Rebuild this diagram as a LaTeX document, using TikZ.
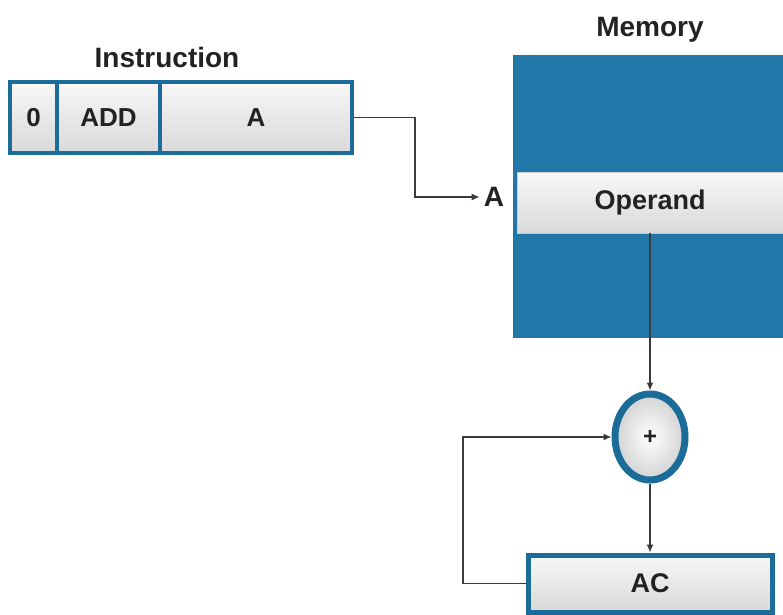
\documentclass[tikz,border=0pt]{standalone}
\usepackage{fontspec}
\setmainfont{Liberation Sans}
\usetikzlibrary{arrows.meta,shapes.geometric}
\definecolor{memblue}{HTML}{2178A8}
\definecolor{edgeblue}{HTML}{1B6C99}
\definecolor{wire}{HTML}{3A3A3A}
\definecolor{txt}{HTML}{222222}
\begin{document}
\begin{tikzpicture}[x=1pt,y=-1pt,
  cell/.style={rectangle, draw=edgeblue, line width=4pt, top color=gray!6, bottom color=gray!30,
    minimum height=71pt, inner sep=0pt, font=\fontsize{26}{28}\selectfont\bfseries, text=txt},
  lbl/.style={font=\fontsize{28}{30}\selectfont\bfseries, text=txt, inner sep=0pt},
  conn/.style={draw=wire, line width=1.3pt, -{Latex[length=8pt,width=7pt]}},
  line/.style={draw=wire, line width=1.3pt}]
\useasboundingbox (0,0) rectangle (783,614);
% Instruction
\node[lbl] (instr) at (167,57) {Instruction};
\node[cell, minimum width=47pt] (c0) at (33.5,117.5) {0};
\node[cell, minimum width=103pt] (cadd) at (108.5,117.5) {ADD};
\node[cell, minimum width=192pt] (ca) at (256,117.5) {A};
% Memory
\node[lbl] (memlbl) at (650,30) {Memory};
\node[rectangle, fill=memblue, minimum width=270pt, minimum height=283pt, inner sep=0pt] (mem) at (648,196.5) {};
\node[rectangle, draw=gray!40, line width=0.6pt, top color=gray!5, bottom color=gray!30,
  minimum width=266pt, minimum height=61pt, inner sep=0pt, font=\fontsize{27}{29}\selectfont\bfseries, text=txt] (op) at (650,202.5) {Operand};
\node[lbl] (alab) at (494,197) {A};
% Adder
\node[ellipse, draw=edgeblue, line width=7pt, inner color=white, outer color=gray!35,
  minimum width=70pt, minimum height=86pt, inner sep=0pt, font=\fontsize{24}{26}\selectfont\bfseries, text=txt] (sum) at (650,437) {+};
% AC
\node[rectangle, draw=edgeblue, line width=5pt, top color=gray!6, bottom color=gray!30,
  minimum width=244pt, minimum height=57pt, inner sep=0pt, font=\fontsize{27}{29}\selectfont\bfseries, text=txt] (ac) at (650,583.5) {AC};
% Connectors
\coordinate (b1) at (415,117.5);
\draw[conn] (ca.east) -- (b1) |- ([xshift=-4pt]alab.west);
\draw[conn] (op.south) -- (sum.north);
\draw[conn] (sum.south) -- (ac.north);
\coordinate (b2) at (463,583.5);
\draw[conn] (ac.west) -- (b2) |- (sum.west);
\end{tikzpicture}
\end{document}
